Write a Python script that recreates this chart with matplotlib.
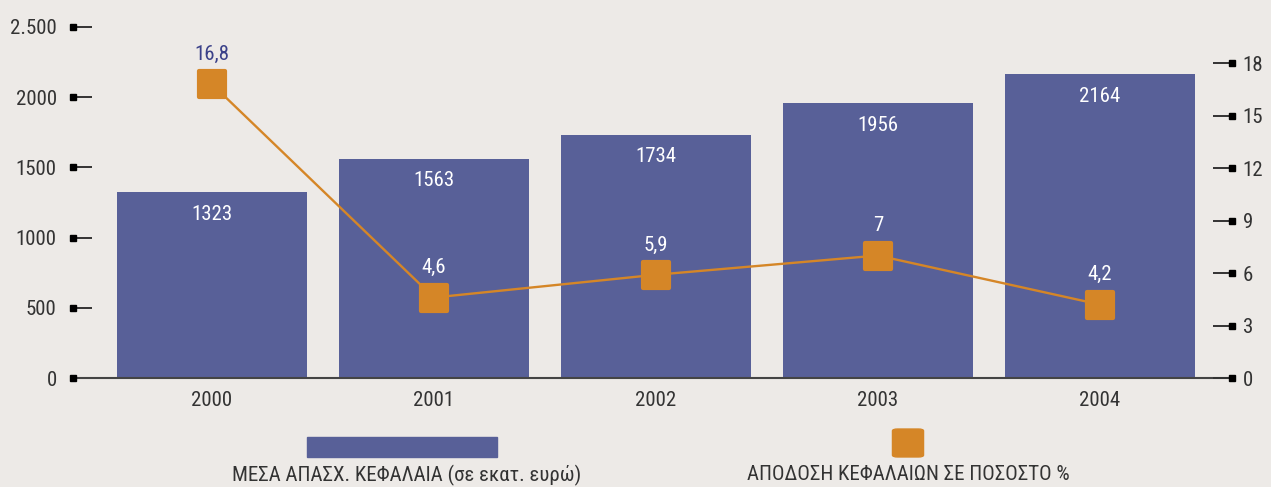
import numpy as np
import matplotlib
matplotlib.use("Agg")
import matplotlib.pyplot as plt
from matplotlib import font_manager
from matplotlib.markers import MarkerStyle
from matplotlib.patches import Rectangle, FancyBboxPatch

years = ['2000', '2001', '2002', '2003', '2004']
capital = [1323, 1563, 1734, 1956, 2164]
returns = [16.8, 4.6, 5.9, 7, 4.2]
return_labels = ['16,8', '4,6', '5,9', '7', '4,2']
left_ticks = [0, 500, 1000, 1500, 2000, 2500]
left_ticklabels = ['0', '500', '1000', '1500', '2000', '2.500']
right_ticks = [0, 3, 6, 9, 12, 15, 18]

# condensed sans with greek glyphs, first one that is installed
have = {f.name for f in font_manager.fontManager.ttflist}
wanted = ['Liberation Sans Narrow', 'Roboto Condensed', 'Fira Sans Condensed',
          'Open Sans Condensed', 'IBM Plex Sans Condensed', 'Noto Sans Display',
          'Roboto']
fams = [f for f in wanted if f in have][:1] + ['DejaVu Sans']
plt.rcParams['font.family'] = fams

bg = '#edeae7'
bar_col = '#586098'
orange = '#d58627'
navy = '#3b4189'
dark = '#333333'
fs = 15

W, H = 1271, 487
fig = plt.figure(figsize=(W / 100, H / 100), dpi=100, facecolor=bg)
ax_l, ax_r, ax_t, ax_b = 92, 1213, 27, 378
ax = fig.add_axes([ax_l / W, 1 - ax_b / H, (ax_r - ax_l) / W, (ax_b - ax_t) / H])
ax.set_facecolor(bg)
x = np.arange(len(years))

ax.bar(x, capital, width=0.856, color=bar_col, zorder=2)
for xi, v in zip(x, capital):
    ax.annotate(str(v), (xi, v), xytext=(0, -16), textcoords='offset points',
                ha='center', va='center', color='white', fontsize=fs, zorder=5)

ax.set_xlim(-0.54, 4.51)
ax.set_ylim(0, 2500)
ax.set_xticks(x)
ax.set_xticklabels(years)
ax.set_yticks(left_ticks)
ax.set_yticklabels(left_ticklabels)
for s in ax.spines.values():
    s.set_visible(False)
ax.tick_params(axis='x', length=0, pad=9, labelsize=fs, labelcolor=dark)
ax.tick_params(axis='y', length=14.4, width=1.4, color=dark, pad=11,
               labelsize=fs, labelcolor=dark)
# small square ends on the tick marks
frac = 19 / (ax_r - ax_l)
ax.plot([-frac] * len(left_ticks), left_ticks, 's', ms=4.5, color='black',
        transform=ax.get_yaxis_transform(), clip_on=False, zorder=6)
ax.axhline(0, xmin=-frac, xmax=1 + frac, color='#444444', lw=1.5,
           clip_on=False, zorder=3)

ax2 = ax.twinx()
for s in ax2.spines.values():
    s.set_visible(False)
ax2.set_ylim(0, 20.06)
ax2.set_yticks(right_ticks)
ax2.tick_params(axis='y', length=14.4, width=1.4, color=dark, pad=7,
                labelsize=fs, labelcolor=dark)
ax2.plot([1 + frac] * len(right_ticks), right_ticks, 's', ms=4.5, color='black',
         transform=ax2.get_yaxis_transform(), clip_on=False, zorder=6)

ax2.plot(x, returns, color=orange, lw=1.7, zorder=4, clip_on=False)
ax2.plot(x, returns, ls='none', marker=MarkerStyle('s', joinstyle='round'),
         ms=19, mfc=orange, mec=orange, mew=3, zorder=5, clip_on=False)
for i, (xi, v, lab) in enumerate(zip(x, returns, return_labels)):
    ax2.annotate(lab, (xi, v), xytext=(0, 21.5), textcoords='offset points',
                 ha='center', va='center', fontsize=fs,
                 color=navy if i == 0 else 'white', zorder=6)

# legend
fig.add_artist(Rectangle((307 / W, 1 - 457 / H), 190 / W, 20 / H,
                         transform=fig.transFigure, color=bar_col))
fig.add_artist(FancyBboxPatch((895 / W, 1 - 456 / H), 26 / W, 26 / H,
                              boxstyle='round,pad=0.002,rounding_size=0.004',
                              transform=fig.transFigure, color=orange))
fig.text(232 / W, 1 - 475 / H, 'ΜΕΣΑ ΑΠΑΣΧ. ΚΕΦΑΛΑΙΑ (σε εκατ. ευρώ)',
         ha='left', va='center', fontsize=fs, color=dark)
fig.text(747 / W, 1 - 475 / H, 'ΑΠΟΔΟΣΗ ΚΕΦΑΛΑΙΩΝ ΣΕ ΠΟΣΟΣΤΟ %',
         ha='left', va='center', fontsize=fs, color=dark)

fig.savefig('out.png', dpi=100, facecolor=bg)
